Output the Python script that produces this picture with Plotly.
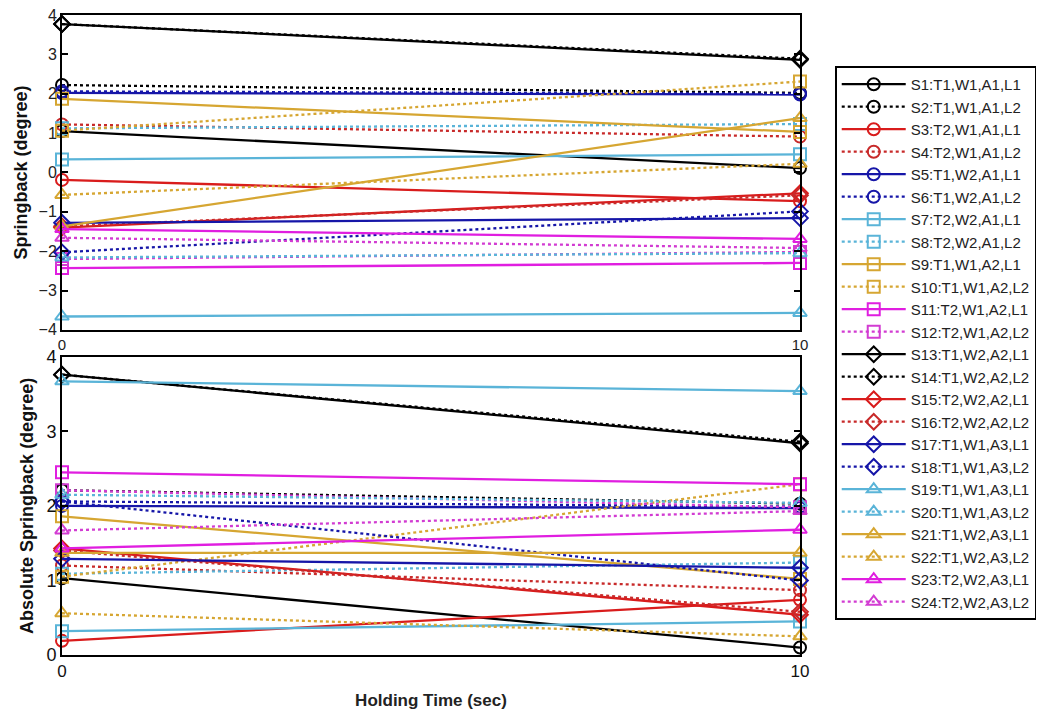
import plotly.graph_objects as go
from plotly.subplots import make_subplots

holding_time = [0, 10]
series_names = [
    "S1:T1,W1,A1,L1", "S2:T1,W1,A1,L2", "S3:T2,W1,A1,L1", "S4:T2,W1,A1,L2",
    "S5:T1,W2,A1,L1", "S6:T1,W2,A1,L2", "S7:T2,W2,A1,L1", "S8:T2,W2,A1,L2",
    "S9:T1,W1,A2,L1", "S10:T1,W1,A2,L2", "S11:T2,W1,A2,L1", "S12:T2,W1,A2,L2",
    "S13:T1,W2,A2,L1", "S14:T1,W2,A2,L2", "S15:T2,W2,A2,L1", "S16:T2,W2,A2,L2",
    "S17:T1,W1,A3,L1", "S18:T1,W1,A3,L2", "S19:T1,W1,A3,L1", "S20:T1,W1,A3,L2",
    "S21:T1,W2,A3,L1", "S22:T1,W2,A3,L2", "S23:T2,W2,A3,L1", "S24:T2,W2,A3,L2",
]

# Springback (degree) at 0 s and 10 s
springback = [
    [1.05, 0.11], [2.22, 2.02], [-0.19, -0.73], [1.22, 0.91],
    [2.02, 1.98], [2.06, 2.00], [0.33, 0.46], [1.12, 1.23],
    [1.87, 1.03], [1.06, 2.31], [-2.43, -2.30], [-2.20, -2.02],
    [3.77, 2.86], [3.77, 2.89], [-1.40, -0.53], [-1.37, -0.58],
    [-1.28, -1.16], [-2.03, -0.99], [-3.66, -3.57], [-2.16, -2.05],
    [-1.37, 1.38], [-0.57, 0.22], [-1.44, -1.69], [-1.66, -1.92],
]

# Absolute springback (degree) at 0 s and 10 s
abs_springback = [
    [1.03, 0.10], [2.21, 2.03], [0.19, 0.74], [1.20, 0.87],
    [2.00, 1.97], [2.06, 1.99], [0.32, 0.45], [1.09, 1.24],
    [1.86, 1.02], [1.05, 2.29], [2.45, 2.29], [2.21, 1.98],
    [3.76, 2.84], [3.76, 2.86], [1.43, 0.54], [1.40, 0.58],
    [1.29, 1.17], [2.06, 1.00], [3.67, 3.54], [2.15, 2.04],
    [1.37, 1.37], [0.56, 0.25], [1.43, 1.68], [1.67, 1.93],
]

colors = ["#000000", "#000000", "#d91c1c", "#c82a2a", "#1616a8", "#1616a8",
          "#5ab4d8", "#5ab4d8", "#d6a632", "#d6a632", "#e01ee0", "#d23cd2"] * 2
symbols = (["circle-open"] * 6 + ["square-open"] * 6 +
           ["diamond-open"] * 6 + ["triangle-up-open"] * 6)
dashes = ["solid", "dot"] * 12

fig = make_subplots(rows=2, cols=1, vertical_spacing=0.042)

for i, name in enumerate(series_names):
    style = dict(
        mode="lines+markers",
        line=dict(color=colors[i], width=2.3, dash=dashes[i]),
        marker=dict(symbol=symbols[i], size=12, color=colors[i],
                    line=dict(color=colors[i], width=2)),
        cliponaxis=False,
        name=name,
    )
    fig.add_trace(go.Scatter(x=holding_time, y=springback[i], showlegend=True, **style), row=1, col=1)
    fig.add_trace(go.Scatter(x=holding_time, y=abs_springback[i], showlegend=False, **style), row=2, col=1)

axis_common = dict(showline=True, linecolor="black", linewidth=2, mirror="ticks",
                   ticks="inside", ticklen=6, tickcolor="black", tickwidth=2,
                   showgrid=False, zeroline=False, ticklabeloverflow="allow")

fig.update_xaxes(range=[0, 10], tickvals=[0, 10], **axis_common)
fig.update_xaxes(row=1, col=1, tickfont=dict(family="Liberation Sans", size=15, color="#222"))
fig.update_xaxes(row=2, col=1, tickfont=dict(family="Liberation Sans", size=17, color="#111"),
                 tickprefix="<b>", ticksuffix="</b>",
                 title=dict(text="<b>Holding Time (sec)</b>", standoff=14,
                            font=dict(family="Liberation Sans", size=17, color="#222")))
fig.update_yaxes(row=1, col=1, range=[-4, 4], tickvals=[-4, -3, -2, -1, 0, 1, 2, 3, 4],
                 tickfont=dict(family="Liberation Sans", size=16, color="#222"),
                 title=dict(text="<b>Springback (degree)</b>", standoff=6,
                            font=dict(family="Liberation Sans", size=18, color="#111")),
                 **axis_common)
fig.update_yaxes(row=2, col=1, range=[0, 4], tickvals=[0, 1, 2, 3, 4],
                 tickprefix="<b>", ticksuffix="</b>",
                 tickfont=dict(family="Liberation Sans", size=18, color="#111"),
                 title=dict(text="<b>Absolute Springback (degree)</b>", standoff=8,
                            font=dict(family="Liberation Sans", size=18, color="#111")),
                 **axis_common)

fig.update_layout(
    width=1036, height=707,
    margin=dict(l=54, r=244, t=7, b=60, autoexpand=False),
    plot_bgcolor="white", paper_bgcolor="white",
    showlegend=True,
    legend=dict(xref="container", yref="container", x=0.798, y=0.918,
                xanchor="left", yanchor="top", maxheight=600,
                bordercolor="black", borderwidth=2, bgcolor="white",
                font=dict(family="Liberation Sans", size=15, color="#222"),
                itemwidth=64, tracegroupgap=0),
)
fig.layout.yaxis.domain = [0.508, 1.0]
fig.layout.yaxis2.domain = [0.0, 0.466]

fig.write_html("out.html")
